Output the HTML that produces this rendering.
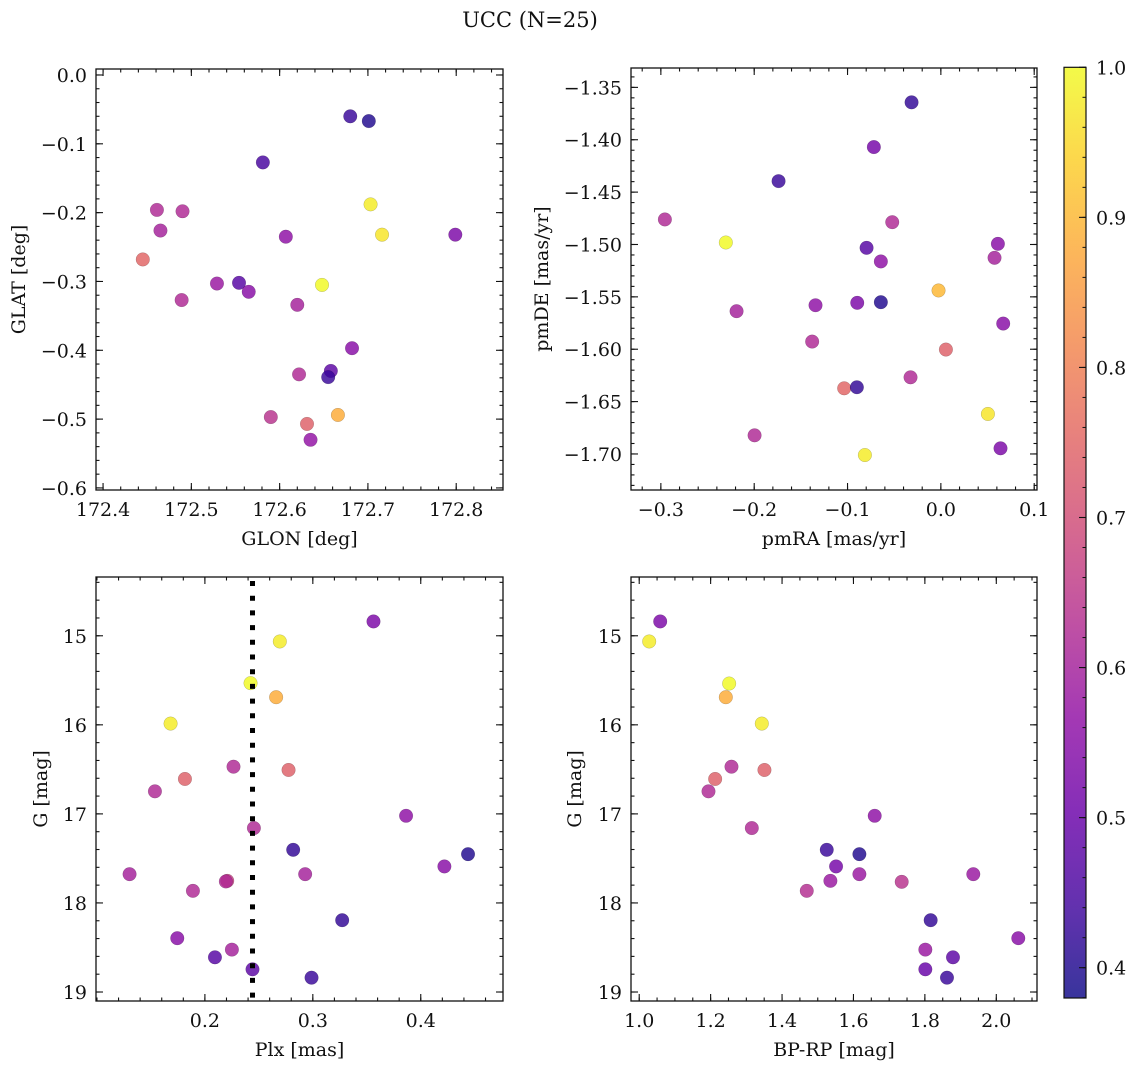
<!DOCTYPE html>
<html><head><meta charset="utf-8"><style>
html,body{margin:0;padding:0;background:#fff;}
svg text{font-family:"DejaVu Serif","Liberation Serif",serif;fill:#111;}
</style></head><body>
<svg id="fig" width="1136" height="1067" viewBox="0 0 1136 1067" xmlns="http://www.w3.org/2000/svg">
<text x="530" y="27" font-size="21" text-anchor="middle">UCC (N=25)</text>
</svg>
<script>
// Panel 1: GLON / GLAT
const glon = [172.680,172.701,172.581,172.703,172.461,172.490,172.465,172.716,172.799,172.607,172.445,172.529,172.554,172.565,172.648,172.489,172.620,172.682,172.622,172.658,172.655,172.590,172.666,172.631,172.635];
const glat = [-0.060,-0.067,-0.127,-0.188,-0.196,-0.198,-0.226,-0.232,-0.232,-0.235,-0.268,-0.303,-0.302,-0.315,-0.305,-0.327,-0.334,-0.397,-0.435,-0.430,-0.439,-0.497,-0.494,-0.507,-0.530];
const c1 = [0.43,0.40,0.45,0.98,0.62,0.62,0.60,0.97,0.53,0.56,0.75,0.58,0.47,0.55,1.00,0.62,0.60,0.55,0.62,0.48,0.43,0.64,0.88,0.74,0.57];
// Panel 2: pmRA / pmDE
const pmra = [-0.0314,-0.0718,-0.1739,-0.2957,-0.0521,-0.2304,0.0611,-0.0796,0.0575,-0.0643,-0.0025,-0.1343,-0.0896,-0.0643,-0.2189,0.0668,-0.1379,0.0054,-0.0325,-0.1036,-0.0900,0.0504,-0.1996,-0.0814,0.0639];
const pmde = [-1.3643,-1.4070,-1.4395,-1.4761,-1.4787,-1.4981,-1.4994,-1.5032,-1.5127,-1.5162,-1.5439,-1.5580,-1.5557,-1.5551,-1.5637,-1.5755,-1.5927,-1.6003,-1.6268,-1.6373,-1.6363,-1.6618,-1.6822,-1.7010,-1.6946];
const c2 = [0.42,0.52,0.43,0.62,0.62,1.00,0.55,0.47,0.60,0.56,0.90,0.56,0.53,0.40,0.60,0.55,0.62,0.74,0.62,0.75,0.42,0.97,0.62,0.98,0.53];
// Panel 3: Plx / G
const plx = [0.3562,0.2694,0.2423,0.2660,0.1682,0.2265,0.2775,0.1815,0.1537,0.3864,0.2454,0.2818,0.4438,0.4219,0.1302,0.2929,0.2207,0.2194,0.1889,0.3272,0.1744,0.2250,0.2093,0.2441,0.2988];
const gmag3 = [14.839,15.064,15.532,15.690,15.986,16.470,16.507,16.608,16.747,17.021,17.159,17.403,17.452,17.590,17.677,17.677,17.752,17.759,17.864,18.194,18.396,18.524,18.610,18.745,18.839];
const c3 = [0.53,0.98,1.00,0.88,0.98,0.62,0.74,0.74,0.62,0.56,0.62,0.42,0.40,0.55,0.60,0.60,0.67,0.62,0.62,0.42,0.55,0.60,0.47,0.48,0.43];
const plxLine = [0.2441];
// Panel 4: BP-RP / G
const bprp = [1.0588,1.0280,1.2519,1.2425,1.3433,1.2584,1.3507,1.2127,1.1940,1.6595,1.3153,1.5252,1.6166,1.5513,1.6166,1.9356,1.5354,1.7351,1.4692,1.8162,2.0616,1.8013,1.8787,1.8013,1.8619];
const gmag4 = [14.839,15.064,15.536,15.690,15.986,16.470,16.507,16.608,16.747,17.021,17.159,17.403,17.452,17.590,17.677,17.677,17.752,17.763,17.864,18.194,18.396,18.524,18.610,18.745,18.839];
const c4 = [0.53,0.98,1.00,0.88,0.98,0.62,0.74,0.74,0.62,0.56,0.62,0.43,0.40,0.52,0.58,0.58,0.58,0.64,0.63,0.42,0.55,0.58,0.48,0.50,0.43];
// Tick labels
const ticks1x = [172.4,172.5,172.6,172.7,172.8];
const ticks1y = [0.0,-0.1,-0.2,-0.3,-0.4,-0.5,-0.6];
const ticks2x = [-0.3,-0.2,-0.1,0.0,0.1];
const ticks2y = [-1.35,-1.40,-1.45,-1.50,-1.55,-1.60,-1.65,-1.70];
const ticks3x = [0.2,0.3,0.4];
const ticks3y = [15,16,17,18,19];
const ticks4x = [1.0,1.2,1.4,1.6,1.8,2.0];
const ticks4y = [15,16,17,18,19];
const cbTicks = [0.4,0.5,0.6,0.7,0.8,0.9,1.0];
const cRange = [0.3798,1.0];

const NS = "http://www.w3.org/2000/svg";
const svg = document.getElementById('fig');
const FS = 19;
function mk(tag, attrs, parent){
  const e = document.createElementNS(NS, tag);
  for (const k in attrs) e.setAttribute(k, attrs[k]);
  (parent||svg).appendChild(e);
  return e;
}
const stops = [[13,8,135],[65,4,157],[106,0,168],[143,13,164],[177,42,144],[204,71,120],[225,100,98],[242,132,75],[252,166,54],[252,206,37],[240,249,33]];
function plasma(t){
  t = Math.max(0, Math.min(1, t));
  const f = t*10, i = Math.min(9, Math.floor(f)), r = f - i;
  const a = stops[i], b = stops[i+1];
  return 'rgb(' + [0,1,2].map(k => Math.round(a[k] + (b[k]-a[k])*r)).join(',') + ')';
}
function cmap(v){ return plasma((v - cRange[0]) / (cRange[1] - cRange[0])); }
function fmt(v, d){ const s = Math.abs(v).toFixed(d); return (v < -1e-9 ? '\u2212' : '') + s; }

function panel(o){
  const g = mk('g', {});
  
  
  const X = v => o.x0 + (v - o.xmin) / (o.xmax - o.xmin) * (o.x1 - o.x0);
  const Y = o.invert ? (v => o.y0 + (v - o.ymin) / (o.ymax - o.ymin) * (o.y1 - o.y0))
                     : (v => o.y1 - (v - o.ymin) / (o.ymax - o.ymin) * (o.y1 - o.y0));
  const pg = mk('g', {}, g);
  
  
  for (let i = 0; i < o.xs.length; i++){
    const c = mk('circle', {cx: X(o.xs[i]), cy: Y(o.ys[i]), r: 6.8, fill: cmap(o.cs[i]), 'fill-opacity': 0.82, stroke: 'rgba(0,0,0,0.25)', 'stroke-width': 0.5}, pg);
    
    
  }
  if (o.vline){
    const l = mk('line', {x1: X(o.vline[0]), x2: X(o.vline[0]), y1: o.y0 + 4, y2: o.y1, stroke: '#000', 'stroke-width': 5, 'stroke-dasharray': '5 9.7'}, g);
    
    
  }
  const fr = mk('rect', {x: o.x0, y: o.y0, width: o.x1 - o.x0, height: o.y1 - o.y0, fill: 'none', stroke: '#111', 'stroke-width': 1.3}, g);
  
  
  const tg = mk('g', {stroke: '#111', 'stroke-width': 1.1}, g);
  for (let k = Math.ceil(o.xmin / o.mx - 1e-6); k * o.mx <= o.xmax + 1e-9; k++){
    const px = X(k * o.mx);
    mk('line', {x1: px, x2: px, y1: o.y1, y2: o.y1 - 3.5}, tg);
    mk('line', {x1: px, x2: px, y1: o.y0, y2: o.y0 + 3.5}, tg);
  }
  for (let k = Math.ceil(o.ymin / o.my - 1e-6); k * o.my <= o.ymax + 1e-9; k++){
    const py = Y(k * o.my);
    mk('line', {x1: o.x0, x2: o.x0 + 3.5, y1: py, y2: py}, tg);
    mk('line', {x1: o.x1, x2: o.x1 - 3.5, y1: py, y2: py}, tg);
  }
  o.tx.forEach(v => {
    const px = X(v);
    mk('line', {x1: px, x2: px, y1: o.y1, y2: o.y1 - 7}, tg);
    mk('line', {x1: px, x2: px, y1: o.y0, y2: o.y0 + 7}, tg);
    const t = mk('text', {x: px, y: o.y1 + 26, 'font-size': FS, 'text-anchor': 'middle'}, g);
    t.textContent = fmt(v, o.dx);
    
    
  });
  o.ty.forEach(v => {
    const py = Y(v);
    mk('line', {x1: o.x0, x2: o.x0 + 7, y1: py, y2: py}, tg);
    mk('line', {x1: o.x1, x2: o.x1 - 7, y1: py, y2: py}, tg);
    const t = mk('text', {x: o.x0 - 9, y: py + 7, 'font-size': FS, 'text-anchor': 'end'}, g);
    t.textContent = fmt(v, o.dy);
    
    
  });
  const xl = mk('text', {x: (o.x0 + o.x1) / 2, y: o.y1 + 55, 'font-size': FS, 'text-anchor': 'middle'}, g);
  xl.textContent = o.xlabel;
  
  
  const cy = (o.y0 + o.y1) / 2;
  const yl = mk('text', {x: o.ylx, y: cy, 'font-size': FS, 'text-anchor': 'middle', transform: 'rotate(-90 ' + o.ylx + ' ' + cy + ')'}, g);
  yl.textContent = o.ylabel;
  
  
}

panel({name:'glon-glat-panel', x0:96, x1:503, y0:69, y1:490, xmin:172.392, xmax:172.853, ymin:-0.603, ymax:0.0087,
  xs:glon, ys:glat, cs:c1, tx:ticks1x, ty:ticks1y, dx:1, dy:1, mx:0.02, my:0.02, xlabel:'GLON [deg]', ylabel:'GLAT [deg]', ylx:25});
panel({name:'pm-panel', x0:631, x1:1037, y0:68, y1:490, xmin:-0.332, xmax:0.103, ymin:-1.7344, ymax:-1.3315,
  xs:pmra, ys:pmde, cs:c2, tx:ticks2x, ty:ticks2y, dx:1, dy:2, mx:0.02, my:0.01, xlabel:'pmRA [mas/yr]', ylabel:'pmDE [mas/yr]', ylx:548});
panel({name:'plx-g-panel', x0:96, x1:503, y0:577, y1:1001, xmin:0.0991, xmax:0.4762, ymin:14.340, ymax:19.101, invert:true,
  xs:plx, ys:gmag3, cs:c3, tx:ticks3x, ty:ticks3y, dx:1, dy:0, mx:0.02, my:0.2, xlabel:'Plx [mas]', ylabel:'G [mag]', ylx:47, vline:plxLine});
panel({name:'cmd-panel', x0:631, x1:1037, y0:577, y1:1001, xmin:0.977, xmax:2.114, ymin:14.340, ymax:19.101, invert:true,
  xs:bprp, ys:gmag4, cs:c4, tx:ticks4x, ty:ticks4y, dx:1, dy:0, mx:0.05, my:0.2, xlabel:'BP-RP [mag]', ylabel:'G [mag]', ylx:581});

// Colorbar
(function(){
  const x0 = 1064, x1 = 1086, y0 = 67.3, y1 = 998;
  const g = mk('g', {});
  
  
  const defs = mk('defs', {}, g);
  const lg = mk('linearGradient', {id: 'cbg', x1: 0, y1: 1, x2: 0, y2: 0}, defs);
  for (let i = 0; i <= 20; i++){
    mk('stop', {offset: i / 20, 'stop-color': plasma(i / 20)}, lg);
  }
  mk('rect', {x: x0, y: y0, width: x1 - x0, height: y1 - y0, fill: 'url(#cbg)', 'fill-opacity': 0.82}, g);
  mk('rect', {x: x0, y: y0, width: x1 - x0, height: y1 - y0, fill: 'none', stroke: '#111', 'stroke-width': 1.2}, g);
  const Y = v => y1 - (v - cRange[0]) / (cRange[1] - cRange[0]) * (y1 - y0);
  for (let k = 19; k <= 50; k++){
    const v = k * 0.02;
    if (v < cRange[0] || v > cRange[1] + 1e-9) continue;
    mk('line', {x1: x1, x2: x1 - 3.5, y1: Y(v), y2: Y(v), stroke: '#111', 'stroke-width': 1}, g);
  }
  cbTicks.forEach(v => {
    mk('line', {x1: x1, x2: x1 - 7, y1: Y(v), y2: Y(v), stroke: '#111', 'stroke-width': 1.1}, g);
    const t = mk('text', {x: x1 + 10, y: Y(v) + 7, 'font-size': FS}, g);
    t.textContent = v.toFixed(1);
    
    
  });
})();
</script>
</body></html>
